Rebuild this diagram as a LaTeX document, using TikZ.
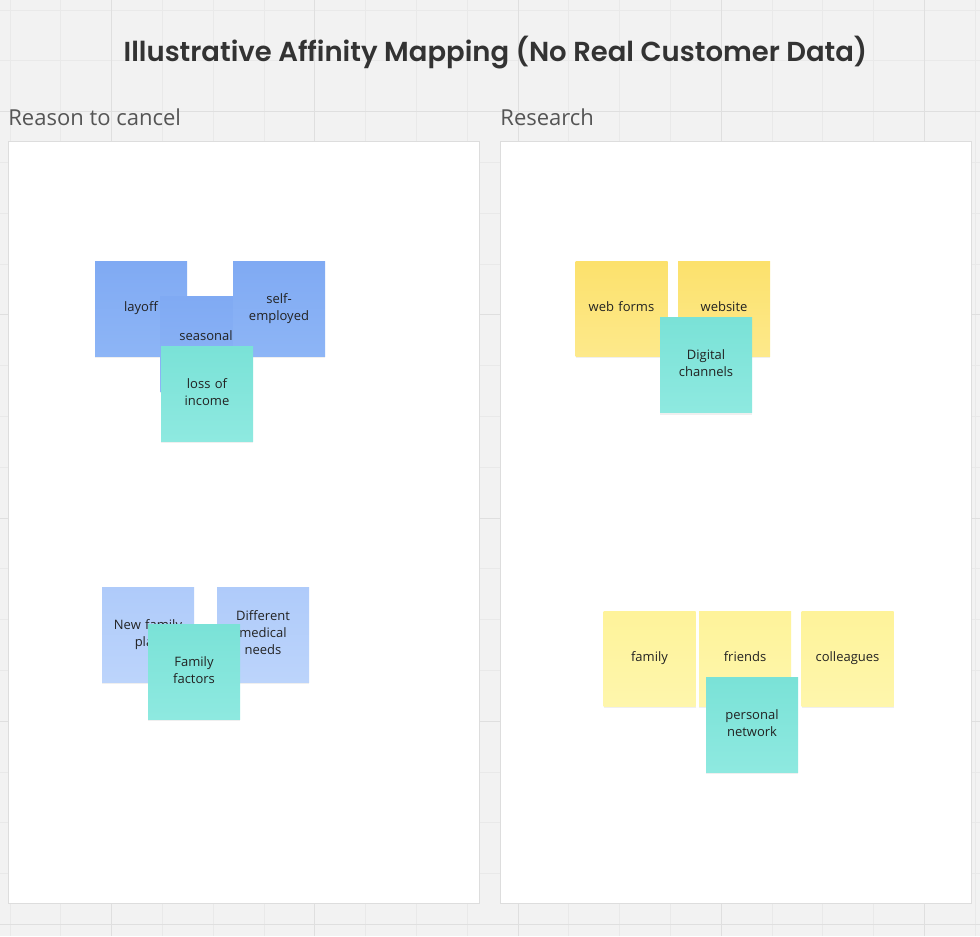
\documentclass[tikz,border=0pt]{standalone}
\usepackage{fontspec}
\usetikzlibrary{backgrounds, shadows}

\setmainfont{Open Sans}
\newfontfamily\titlefont{Poppins SemiBold}

\definecolor{canvas}{HTML}{F2F2F2}
\definecolor{gridminor}{HTML}{E9E9E9}
\definecolor{gridmajor}{HTML}{DFDFDF}
\definecolor{frameline}{HTML}{DDDDDD}
\definecolor{labelgray}{HTML}{555555}
\definecolor{titlegray}{HTML}{333333}
\definecolor{inktext}{HTML}{222222}
\definecolor{blueTop}{HTML}{80AAF3}
\definecolor{blueBot}{HTML}{8DB5F6}
\definecolor{paleblueTop}{HTML}{AFCBFA}
\definecolor{paleblueBot}{HTML}{BCD4FB}
\definecolor{tealTop}{HTML}{7AE2D7}
\definecolor{tealBot}{HTML}{8EE9E0}
\definecolor{yellowTop}{HTML}{FCE16C}
\definecolor{yellowBot}{HTML}{FDE98B}
\definecolor{paleyellowTop}{HTML}{FEF39A}
\definecolor{paleyellowBot}{HTML}{FEF6AC}

\begin{document}
\begin{tikzpicture}[
            x=0.75pt, y=-0.75pt,
            semithick
        ]

        \tikzstyle{board}=[
            draw=frameline,
            fill=white,
            line width=0.75pt,
            inner sep=0pt,
            minimum width=353.25pt,
            minimum height=571.5pt
        ]

        \tikzstyle{sticky}=[
            shape=rectangle,
            inner sep=0pt,
            minimum width=69pt,
            minimum height=71.25pt,
            text width=64pt,
            align=center,
            text=inktext,
            font=\fontsize{9.75}{12.75}\selectfont,
            execute at begin node=\strut,
            execute at end node=\strut,
            drop shadow={opacity=0.12, shadow xshift=0pt, shadow yshift=-1.5pt}
        ]
        \tikzstyle{bluenote}=[sticky, top color=blueTop, bottom color=blueBot]
        \tikzstyle{palebluenote}=[sticky, top color=paleblueTop, bottom color=paleblueBot]
        \tikzstyle{tealnote}=[sticky, top color=tealTop, bottom color=tealBot]
        \tikzstyle{yellownote}=[sticky, top color=yellowTop, bottom color=yellowBot]
        \tikzstyle{paleyellownote}=[sticky, top color=paleyellowTop, bottom color=paleyellowBot]

        \tikzstyle{heading}=[
            anchor=base west,
            inner sep=0pt,
            text=labelgray,
            font=\fontsize{16.5}{20}\selectfont
        ]

        \useasboundingbox (0,0) rectangle (980,936);
        \fill[canvas] (0,0) rectangle (980,936);

        % canvas grid
        \foreach \k in {0,...,19}
            \draw[gridminor, line width=0.75pt] (10+50.8*\k,0) -- (10+50.8*\k,936);
        \foreach \k in {0,...,18}
            \draw[gridminor, line width=0.75pt] (0,10+50.8*\k) -- (980,10+50.8*\k);
        \foreach \k in {2,6,...,18}
            \draw[gridmajor, line width=0.75pt] (10+50.8*\k,0) -- (10+50.8*\k,936);
        \foreach \k in {2,6,...,18}
            \draw[gridmajor, line width=0.75pt] (0,10+50.8*\k) -- (980,10+50.8*\k);

        \node[anchor=base, inner sep=0pt, text=titlegray,
              font=\titlefont\fontsize{20.6}{25}\selectfont]
              (title) at (495.5,61.5) {Illustrative Affinity Mapping (No Real Customer Data)};

        % boards
        \node[heading] (cancelLabel) at (8,125.5) {Reason to cancel};
        \node[heading] (researchLabel) at (500,125.5) {Research};
        \node[board] (cancel) at (243.5,522) {};
        \node[board] (research) at (735.5,522) {};

        % reason to cancel
        \node[bluenote] (layoff) at (141,308.5) {layoff};
        \node[bluenote, text depth=13.5pt] (seasonal) at (206,343.5) {seasonal};
        \node[bluenote] (selfemp) at (279,308.5) {self-\\employed};
        \node[tealnote] (income) at (207,393.5) {loss of\\income};

        \node[palebluenote] (newplan) at (148,634.5) {New family\\plan};
        \node[palebluenote] (medical) at (263,634.5) {Different\\medical\\needs};
        \node[tealnote] (famfactors) at (194,671.5) {Family\\factors};

        % research
        \node[yellownote] (webforms) at (621.5,308.5) {web forms};
        \node[yellownote] (website) at (724,308.5) {website};
        \node[tealnote] (digital) at (706,365) {Digital\\channels};

        \node[paleyellownote] (family) at (649.5,658.5) {family};
        \node[paleyellownote] (friends) at (745,658.5) {friends};
        \node[paleyellownote] (colleagues) at (847.5,658.5) {colleagues};
        \node[tealnote] (personal) at (752,724.5) {personal\\network};

    \end{tikzpicture}
\end{document}
